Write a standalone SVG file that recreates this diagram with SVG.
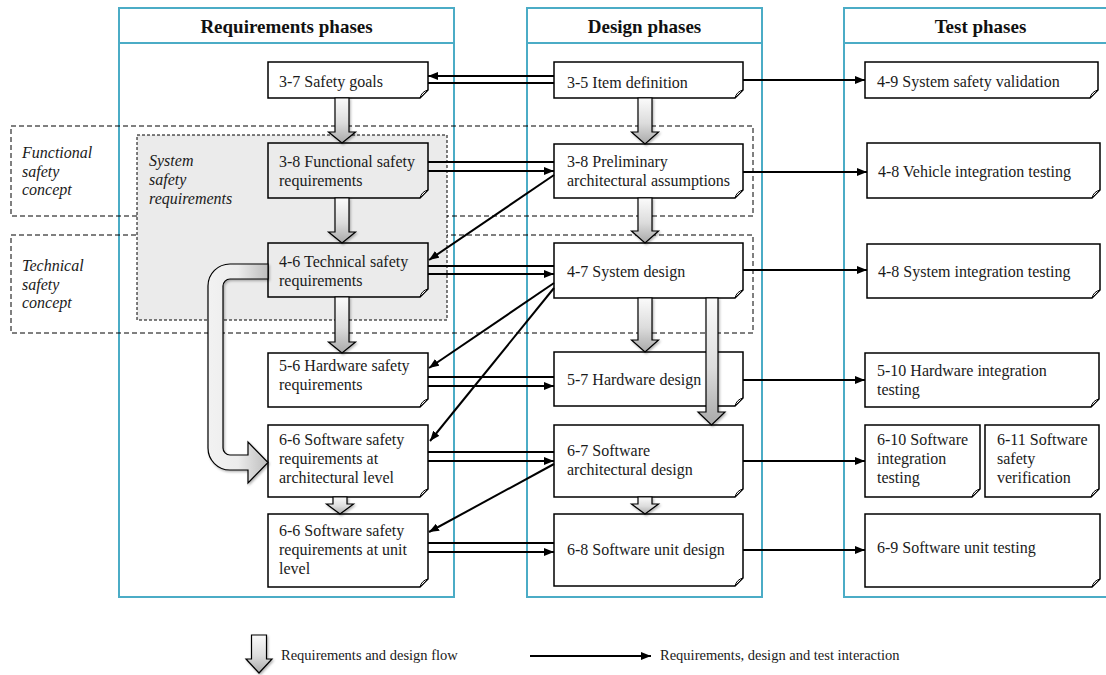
<svg xmlns="http://www.w3.org/2000/svg" width="1106" height="675" viewBox="0 0 1106 675">
  <style>
    .panel { fill: #ffffff; stroke: #4bacc6; stroke-width: 2; }
    .divider { stroke: #4bacc6; stroke-width: 2; }
    .doc { fill: #ffffff; stroke: #000000; stroke-width: 1.5; stroke-linejoin: miter; }
    .doc.shade { fill: #ebebeb; }
    .fold { fill: #ffffff; stroke: #000000; stroke-width: 1; }
    .t { font-family: "Liberation Serif", "Times New Roman", serif; font-size: 16px; fill: #1a1a1a; }
    .h { font-weight: bold; font-size: 19px; text-anchor: middle; fill: #111111; }
    .it { font-style: italic; }
    .lg { font-size: 14.5px; }
    .ln { fill: none; stroke: #000000; stroke-width: 2; }
    .arr { marker-end: url(#head); }
    .dash { fill: none; stroke: #000000; stroke-width: 1; stroke-dasharray: 5 3; }
    .zone { fill: #ebebeb; stroke: #000000; stroke-width: 1; stroke-dasharray: 3 2; }
    .blk { fill: url(#flowV); stroke: #000000; stroke-width: 1.2; stroke-linejoin: miter; filter: url(#soft); }
    .blkU { fill: url(#flowH); stroke: #000000; stroke-width: 1.2; filter: url(#soft); }
  </style>
  <defs>
    <marker id="head" viewBox="0 0 10 8" refX="10" refY="4" markerWidth="10" markerHeight="8" markerUnits="userSpaceOnUse" orient="auto">
      <path d="M0,0 L10,4 L0,8 Z" fill="#000000"/>
    </marker>
    <linearGradient id="flowV" x1="0" y1="0" x2="0" y2="1">
      <stop offset="0" stop-color="#fbfbfb"/>
      <stop offset="0.55" stop-color="#dcdcdc"/>
      <stop offset="1" stop-color="#a9a9a9"/>
    </linearGradient>
    <linearGradient id="flowH" x1="0" y1="0" x2="1" y2="0">
      <stop offset="0" stop-color="#f2f2f2"/>
      <stop offset="0.5" stop-color="#ececec"/>
      <stop offset="1" stop-color="#bdbdbd"/>
    </linearGradient>
    <filter id="soft" x="-30%" y="-30%" width="160%" height="160%">
      <feDropShadow dx="1.2" dy="1.5" stdDeviation="1.3" flood-color="#000000" flood-opacity="0.3"/>
    </filter>
  </defs>

  <!-- phase columns -->
  <g id="col-requirements">
    <rect class="panel" x="119" y="8" width="335" height="589"/>
    <line class="divider" x1="119" y1="43" x2="454" y2="43"/>
    <text class="t h" x="286.5" y="33">Requirements phases</text>
  </g>
  <g id="col-design">
    <rect class="panel" x="527" y="8" width="235" height="589"/>
    <line class="divider" x1="527" y1="43" x2="762" y2="43"/>
    <text class="t h" x="644.5" y="33">Design phases</text>
  </g>
  <g id="col-test">
    <rect class="panel" x="844" y="8" width="274" height="589"/>
    <line class="divider" x1="844" y1="43" x2="1118" y2="43"/>
    <text class="t h" x="980.5" y="33">Test phases</text>
  </g>

  <!-- concept bands -->
  <g id="band-functional">
    <rect class="dash" x="11" y="126" width="742" height="90"/>
    <text class="t it" x="22" y="158">Functional</text>
    <text class="t it" x="22" y="177">safety</text>
    <text class="t it" x="22" y="195">concept</text>
  </g>
  <g id="band-technical">
    <rect class="dash" x="11" y="235" width="742" height="98"/>
    <text class="t it" x="22" y="271">Technical</text>
    <text class="t it" x="22" y="290">safety</text>
    <text class="t it" x="22" y="308">concept</text>
  </g>
  <g id="zone-system-safety">
    <rect class="zone" x="137" y="135" width="310" height="185"/>
    <text class="t it" x="149" y="166">System</text>
    <text class="t it" x="149" y="185">safety</text>
    <text class="t it" x="149" y="204">requirements</text>
  </g>

  <!-- requirements phase documents -->
  <g id="n-3-7">
    <path class="doc" d="M268,62 H428 V90 L420,98 H268 Z"/>
    <path class="fold" d="M420,98 Q421.6,91.6 428,90 Z"/>
    <text class="t" x="279" y="87">3-7 Safety goals</text>
  </g>
  <g id="n-3-8-fsr">
    <path class="doc shade" d="M268,143 H428 V190 L420,198 H268 Z"/>
    <path class="fold" d="M420,198 Q421.6,191.6 428,190 Z"/>
    <text class="t" x="279" y="167">3-8 Functional safety</text>
    <text class="t" x="279" y="186">requirements</text>
  </g>
  <g id="n-4-6">
    <path class="doc shade" d="M268,243 H428 V289 L420,297 H268 Z"/>
    <path class="fold" d="M420,297 Q421.6,290.6 428,289 Z"/>
    <text class="t" x="279" y="267">4-6 Technical safety</text>
    <text class="t" x="279" y="286">requirements</text>
  </g>
  <g id="n-5-6">
    <path class="doc" d="M268,353 H428 V399 L420,407 H268 Z"/>
    <path class="fold" d="M420,407 Q421.6,400.6 428,399 Z"/>
    <text class="t" x="279" y="371">5-6 Hardware safety</text>
    <text class="t" x="279" y="390">requirements</text>
  </g>
  <g id="n-6-6-arch">
    <path class="doc" d="M268,425 H428 V489 L420,497 H268 Z"/>
    <path class="fold" d="M420,497 Q421.6,490.6 428,489 Z"/>
    <text class="t" x="279" y="445">6-6 Software safety</text>
    <text class="t" x="279" y="464">requirements at</text>
    <text class="t" x="279" y="483">architectural level</text>
  </g>
  <g id="n-6-6-unit">
    <path class="doc" d="M268,514 H428 V579 L420,587 H268 Z"/>
    <path class="fold" d="M420,587 Q421.6,580.6 428,579 Z"/>
    <text class="t" x="279" y="536">6-6 Software safety</text>
    <text class="t" x="279" y="555">requirements at unit</text>
    <text class="t" x="279" y="574">level</text>
  </g>

  <!-- design phase documents -->
  <g id="n-3-5">
    <path class="doc" d="M554,62 H743 V90 L735,98 H554 Z"/>
    <path class="fold" d="M735,98 Q736.6,91.6 743,90 Z"/>
    <text class="t" x="567" y="88">3-5 Item definition</text>
  </g>
  <g id="n-3-8-paa">
    <path class="doc" d="M554,144 H743 V190 L735,198 H554 Z"/>
    <path class="fold" d="M735,198 Q736.6,191.6 743,190 Z"/>
    <text class="t" x="567" y="167">3-8 Preliminary</text>
    <text class="t" x="567" y="186">architectural assumptions</text>
  </g>
  <g id="n-4-7">
    <path class="doc" d="M554,243 H743 V290 L735,298 H554 Z"/>
    <path class="fold" d="M735,298 Q736.6,291.6 743,290 Z"/>
    <text class="t" x="567" y="277">4-7 System design</text>
  </g>
  <g id="n-5-7">
    <path class="doc" d="M554,352 H743 V398 L735,406 H554 Z"/>
    <path class="fold" d="M735,406 Q736.6,399.6 743,398 Z"/>
    <text class="t" x="567" y="385">5-7 Hardware design</text>
  </g>
  <g id="n-6-7">
    <path class="doc" d="M554,425 H743 V489 L735,497 H554 Z"/>
    <path class="fold" d="M735,497 Q736.6,490.6 743,489 Z"/>
    <text class="t" x="567" y="456">6-7 Software</text>
    <text class="t" x="567" y="475">architectural design</text>
  </g>
  <g id="n-6-8">
    <path class="doc" d="M554,514 H743 V578 L735,586 H554 Z"/>
    <path class="fold" d="M735,586 Q736.6,579.6 743,578 Z"/>
    <text class="t" x="567" y="555">6-8 Software unit design</text>
  </g>

  <!-- test phase documents -->
  <g id="n-4-9">
    <path class="doc" d="M865,62 H1098 V90 L1090,98 H865 Z"/>
    <path class="fold" d="M1090,98 Q1091.6,91.6 1098,90 Z"/>
    <text class="t" x="877" y="87">4-9 System safety validation</text>
  </g>
  <g id="n-4-8-vehicle">
    <path class="doc" d="M867,143 H1100 V190 L1092,198 H867 Z"/>
    <path class="fold" d="M1092,198 Q1093.6,191.6 1100,190 Z"/>
    <text class="t" x="878" y="177">4-8 Vehicle integration testing</text>
  </g>
  <g id="n-4-8-system">
    <path class="doc" d="M867,244 H1100 V290 L1092,298 H867 Z"/>
    <path class="fold" d="M1092,298 Q1093.6,291.6 1100,290 Z"/>
    <text class="t" x="878" y="277">4-8 System integration testing</text>
  </g>
  <g id="n-5-10">
    <path class="doc" d="M865,353 H1099 V399 L1091,407 H865 Z"/>
    <path class="fold" d="M1091,407 Q1092.6,400.6 1099,399 Z"/>
    <text class="t" x="877" y="376">5-10 Hardware integration</text>
    <text class="t" x="877" y="395">testing</text>
  </g>
  <g id="n-6-10">
    <path class="doc" d="M865,425 H980 V489 L972,497 H865 Z"/>
    <path class="fold" d="M972,497 Q973.6,490.6 980,489 Z"/>
    <text class="t" x="877" y="445">6-10 Software</text>
    <text class="t" x="877" y="464">integration</text>
    <text class="t" x="877" y="483">testing</text>
  </g>
  <g id="n-6-11">
    <path class="doc" d="M985,425 H1099 V489 L1091,497 H985 Z"/>
    <path class="fold" d="M1091,497 Q1092.6,490.6 1099,489 Z"/>
    <text class="t" x="997" y="445">6-11 Software</text>
    <text class="t" x="997" y="464">safety</text>
    <text class="t" x="997" y="483">verification</text>
  </g>
  <g id="n-6-9">
    <path class="doc" d="M865,514 H1100 V579 L1092,587 H865 Z"/>
    <path class="fold" d="M1092,587 Q1093.6,580.6 1100,579 Z"/>
    <text class="t" x="877" y="553">6-9 Software unit testing</text>
  </g>

  <!-- connectors -->
  <g id="connectors">
    <!-- requirements / design interaction pairs -->
    <path class="ln arr" d="M554,76 H428"/>
    <path class="ln" d="M428,83 H554"/>
    <path class="ln" d="M428,162 H554"/>
    <path class="ln arr" d="M428,171 H554"/>
    <path class="ln" d="M428,266 H554"/>
    <path class="ln arr" d="M428,274 H554"/>
    <path class="ln" d="M428,377 H554"/>
    <path class="ln arr" d="M428,386 H554"/>
    <path class="ln" d="M428,452 H554"/>
    <path class="ln arr" d="M428,461 H554"/>
    <path class="ln" d="M428,543 H554"/>
    <path class="ln arr" d="M428,552 H554"/>

    <!-- design back to requirements -->
    <path class="ln arr" d="M554,175 L429,260"/>
    <path class="ln arr" d="M554,283 L429,368"/>
    <path class="ln arr" d="M554,288 L430,441"/>
    <path class="ln arr" d="M554,464 L429,532"/>

    <!-- design to test -->
    <path class="ln arr" d="M743,80 H865"/>
    <path class="ln arr" d="M743,172 H867"/>
    <path class="ln arr" d="M743,270 H867"/>
    <path class="ln arr" d="M743,380 H865"/>
    <path class="ln arr" d="M743,461 H865"/>
    <path class="ln arr" d="M743,550 H865"/>

    <!-- requirements flow -->
    <path class="blk" d="M335,98 H349 V132 H355.5 L342,143 L328.5,132 H335 Z"/>
    <path class="blk" d="M335,198 H349 V232 H355.5 L342,243 L328.5,232 H335 Z"/>
    <path class="blk" d="M335,297 H349 V342 H355.5 L342,353 L328.5,342 H335 Z"/>
    <path class="blk" d="M333,497 H347 V504 H353.5 L340,514 L326.5,504 H333 Z"/>
    <path class="blkU" d="M268,264 H230 A22,22 0 0 0 208,286 V448 A22,22 0 0 0 230,470 H248 V483 L268,462.5 L248,442 V455 H230 A7,7 0 0 1 223,448 V286 A7,7 0 0 1 230,279 H268 Z"/>

    <!-- design flow -->
    <path class="blk" d="M638,98 H652 V132 H658.5 L645,144 L631.5,132 H638 Z"/>
    <path class="blk" d="M638,198 H652 V231 H658.5 L645,243 L631.5,231 H638 Z"/>
    <path class="blk" d="M638,298 H652 V340 H658.5 L645,352 L631.5,340 H638 Z"/>
    <path class="blk" d="M638,497 H652 V504 H658.5 L645,514 L631.5,504 H638 Z"/>
    <path class="blk" d="M706,298 H718 V412 H725 L711.5,425 L698,412 H706 Z"/>
  </g>

  <!-- legend -->
  <g id="legend">
    <path class="blk" d="M251.5,635 H266.5 V659 H272 L259,673 L246,659 H251.5 Z"/>
    <text class="t lg" x="281" y="660">Requirements and design flow</text>
    <path class="ln arr" d="M530,656 H651"/>
    <text class="t lg" x="660" y="660">Requirements, design and test interaction</text>
  </g>
</svg>
